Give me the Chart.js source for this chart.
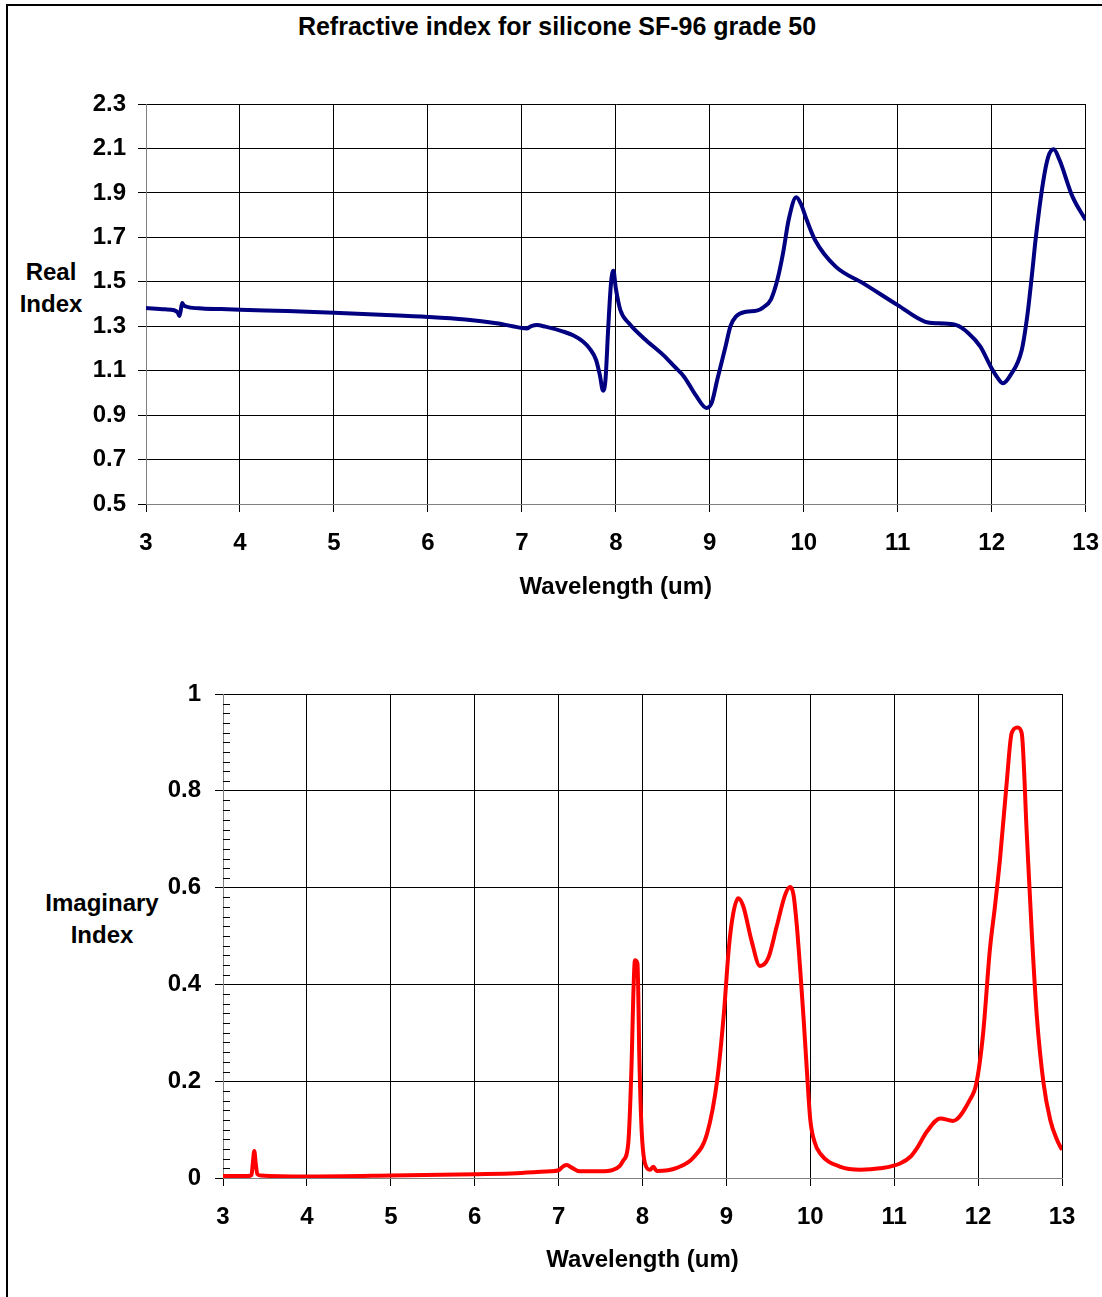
<!DOCTYPE html>
<html>
<head>
<meta charset="utf-8">
<script src="https://cdn.jsdelivr.net/npm/chart.js@4.4.0/dist/chart.umd.min.js"></script>
<style>
  html, body { margin: 0; padding: 0; background: #fff; }
  body { width: 1102px; height: 1297px; position: relative; overflow: hidden; font-family: "Liberation Sans", Arial, sans-serif; }
  .frame { position: absolute; left: 6px; top: 4px; width: 1200px; height: 1400px; border-left: 2px solid #000; border-top: 2px solid #000; }
  .lbl { position: absolute; font-weight: bold; font-size: 24px; color: #000; text-align: center; line-height: 32px; }
  canvas { position: absolute; left: 0; }
</style>
</head>
<body>
<div class="frame"></div>
<div class="lbl" style="left:0;top:10px;width:1114px;font-size:25px;">Refractive index for silicone SF-96 grade 50</div>
<div class="lbl" style="left:0;top:256px;width:102px;">Real<br>Index</div>
<div class="lbl" style="left:0;top:887px;width:204px;">Imaginary<br>Index</div>
<canvas id="chartReal" width="1116" height="640" style="top:0"></canvas>
<canvas id="chartImag" width="1102" height="657" style="top:640px"></canvas>
<script>
// wavelength (um) and real part of the index
const realWl = [3.00, 3.20, 3.30, 3.34, 3.355, 3.37, 3.385, 3.40, 3.45, 3.60, 3.80, 4.00, 4.50, 5.00, 5.50, 6.00, 6.40, 6.73, 6.90, 7.00, 7.05, 7.10, 7.16, 7.25, 7.44, 7.55, 7.65, 7.72, 7.79, 7.83, 7.864, 7.89, 7.92, 7.95, 7.974, 8.00, 8.048, 8.14, 8.30, 8.506, 8.62, 8.726, 8.85, 8.965, 9.02, 9.08, 9.167, 9.22, 9.277, 9.387, 9.50, 9.57, 9.65, 9.72, 9.78, 9.84, 9.92, 9.97, 10.03, 10.12, 10.34, 10.634, 11.00, 11.294, 11.44, 11.624, 11.75, 11.88, 11.99, 12.06, 12.12, 12.20, 12.32, 12.38, 12.43, 12.47, 12.545, 12.60, 12.66, 12.72, 12.86, 13.00];
const realN = [1.382, 1.376, 1.372, 1.360, 1.346, 1.372, 1.405, 1.395, 1.386, 1.380, 1.377, 1.374, 1.368, 1.361, 1.352, 1.342, 1.330, 1.313, 1.300, 1.292, 1.290, 1.300, 1.305, 1.298, 1.276, 1.258, 1.231, 1.200, 1.148, 1.080, 1.010, 1.060, 1.300, 1.500, 1.550, 1.470, 1.373, 1.313, 1.245, 1.170, 1.120, 1.073, 0.990, 0.932, 0.955, 1.060, 1.208, 1.300, 1.343, 1.365, 1.370, 1.385, 1.420, 1.510, 1.630, 1.780, 1.880, 1.850, 1.780, 1.688, 1.568, 1.493, 1.395, 1.320, 1.313, 1.305, 1.270, 1.208, 1.118, 1.070, 1.043, 1.080, 1.193, 1.350, 1.538, 1.700, 1.943, 2.060, 2.096, 2.050, 1.883, 1.778];

// wavelength (um) and imaginary part of the index
const imagWl = [3.00, 3.30, 3.34, 3.355, 3.373, 3.39, 3.41, 3.45, 4.00, 5.00, 6.00, 6.50, 6.90, 7.00, 7.06, 7.10, 7.15, 7.25, 7.50, 7.65, 7.73, 7.77, 7.83, 7.87, 7.89, 7.91, 7.94, 7.964, 7.99, 8.03, 8.09, 8.13, 8.17, 8.41, 8.61, 8.77, 8.89, 8.97, 9.03, 9.08, 9.14, 9.20, 9.30, 9.40, 9.50, 9.60, 9.70, 9.76, 9.80, 9.84, 9.88, 9.92, 9.96, 10.00, 10.05, 10.12, 10.36, 10.60, 10.83, 11.07, 11.20, 11.27, 11.39, 11.55, 11.70, 11.90, 11.98, 12.06, 12.14, 12.20, 12.26, 12.34, 12.40, 12.47, 12.52, 12.58, 12.64, 12.70, 12.78, 12.86, 12.94, 13.00];
const imagK = [0.004, 0.004, 0.006, 0.030, 0.056, 0.030, 0.008, 0.005, 0.003, 0.005, 0.008, 0.010, 0.014, 0.016, 0.025, 0.027, 0.022, 0.014, 0.014, 0.017, 0.025, 0.036, 0.071, 0.236, 0.374, 0.450, 0.443, 0.236, 0.098, 0.030, 0.017, 0.023, 0.0145, 0.021, 0.043, 0.092, 0.202, 0.340, 0.477, 0.545, 0.578, 0.562, 0.490, 0.438, 0.455, 0.520, 0.585, 0.601, 0.585, 0.520, 0.430, 0.330, 0.220, 0.120, 0.075, 0.050, 0.023, 0.017, 0.020, 0.030, 0.045, 0.061, 0.096, 0.123, 0.118, 0.161, 0.196, 0.299, 0.471, 0.560, 0.657, 0.815, 0.919, 0.931, 0.919, 0.712, 0.506, 0.334, 0.196, 0.120, 0.079, 0.058];

// tick labels
const xTicks = [3, 4, 5, 6, 7, 8, 9, 10, 11, 12, 13];
const realTicks = [0.5, 0.7, 0.9, 1.1, 1.3, 1.5, 1.7, 1.9, 2.1, 2.3];
const imagTicks = [0, 0.2, 0.4, 0.6, 0.8, 1];

const FONT = "'Liberation Sans', Arial, sans-serif";
const tickFont = { family: FONT, size: 24, weight: 'bold' };

function toPoints(xs, ys) {
    return xs.map((x, i) => ({ x: x, y: ys[i] }));
}

function xScale(titlePadBottom, height) {
    return {
        type: 'linear', min: 3, max: 13,
        afterBuildTicks: s => { s.ticks = xTicks.map(v => ({ value: v })); },
        afterFit: s => { s.height = height; },
        grid: { color: '#000', lineWidth: 1, tickLength: 8, tickColor: '#000' },
        border: { color: '#808080', width: 1 },
        ticks: { color: '#000', font: tickFont, padding: 17, maxRotation: 0, autoSkip: false },
        title: { display: true, text: 'Wavelength (um)', color: '#000', font: tickFont, padding: { top: 0, bottom: titlePadBottom } }
    };
}

function yScale(ticks, min, max, width, pad, fmt) {
    return {
        type: 'linear', min: min, max: max,
        afterBuildTicks: s => { s.ticks = ticks.map(v => ({ value: v })); },
        afterFit: s => { s.width = width; },
        grid: { color: '#000', lineWidth: 1, tickLength: 8, tickColor: '#000' },
        border: { color: '#808080', width: 1 },
        ticks: { color: '#000', font: tickFont, padding: pad, callback: fmt }
    };
}

new Chart(document.getElementById('chartReal'), {
    type: 'line',
    data: {
        datasets: [{
            data: toPoints(realWl, realN),
            borderColor: '#000080', borderWidth: 4,
            pointRadius: 0, cubicInterpolationMode: 'monotone', fill: false
        }]
    },
    options: {
        responsive: false, animation: false, events: [],
        layout: { padding: { top: 104, right: 30, left: 0, bottom: 0 } },
        plugins: { legend: { display: false }, tooltip: { enabled: false } },
        scales: {
            x: xScale(38, 136),
            y: yScale(realTicks, 0.5, 2.3, 146, 12, v => v.toFixed(1))
        }
    }
});

const minorTicks = {
    id: 'minorTicks',
    afterDraw(chart) {
        const y = chart.scales.y;
        const left = chart.chartArea.left;
        const ctx = chart.ctx;
        ctx.save();
        ctx.strokeStyle = '#000';
        ctx.lineWidth = 1;
        ctx.beginPath();
        for (let i = 1; i < 50; i++) {
            if (i % 10 === 0) continue;
            const py = Math.round(y.getPixelForValue(i / 50)) + 0.5;
            ctx.moveTo(left, py);
            ctx.lineTo(left + 7, py);
        }
        ctx.stroke();
        ctx.restore();
    }
};

new Chart(document.getElementById('chartImag'), {
    type: 'line',
    data: {
        datasets: [{
            data: toPoints(imagWl, imagK),
            borderColor: '#ff0000', borderWidth: 4,
            pointRadius: 0, cubicInterpolationMode: 'monotone', fill: false
        }]
    },
    options: {
        responsive: false, animation: false, events: [],
        layout: { padding: { top: 54, right: 40, left: 0, bottom: 0 } },
        plugins: { legend: { display: false }, tooltip: { enabled: false } },
        scales: {
            x: xScale(22, 119),
            y: yScale(imagTicks, 0, 1, 223, 14, v => String(Math.round(v * 10) / 10))
        }
    },
    plugins: [minorTicks]
});
</script>
</body>
</html>
